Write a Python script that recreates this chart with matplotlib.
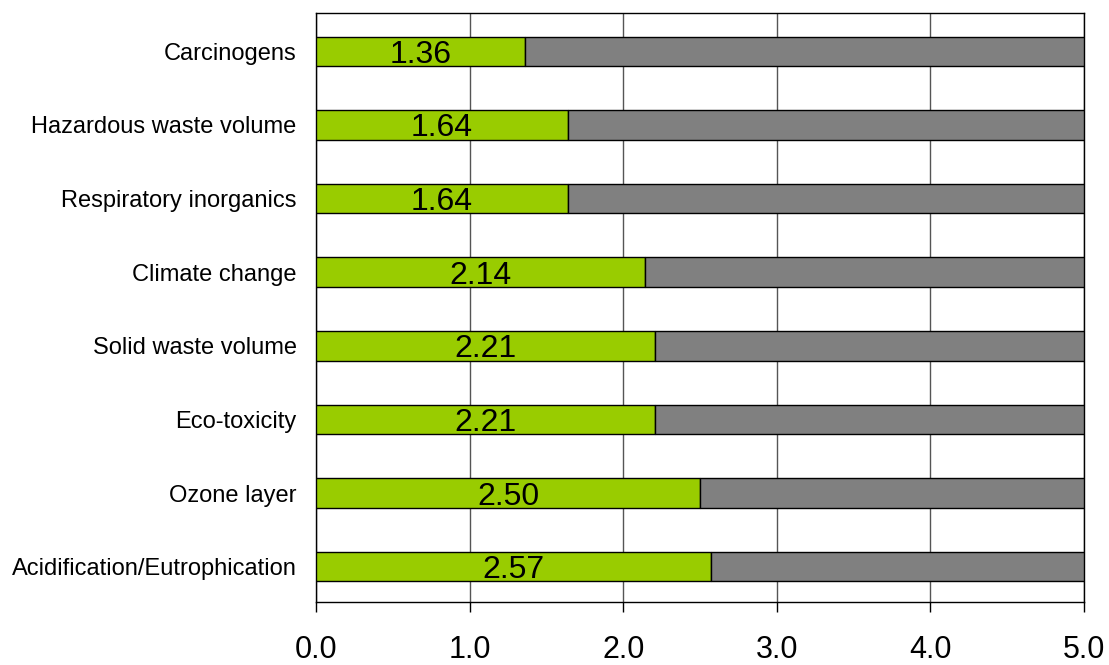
import matplotlib
matplotlib.use("Agg")
import matplotlib.pyplot as plt
import numpy as np

categories = ["Carcinogens", "Hazardous waste volume", "Respiratory inorganics",
              "Climate change", "Solid waste volume", "Eco-toxicity",
              "Ozone layer", "Acidification/Eutrophication"]
values = [1.36, 1.64, 1.64, 2.14, 2.21, 2.21, 2.50, 2.57]
max_score = 5.0
x_ticks = [0.0, 1.0, 2.0, 3.0, 4.0, 5.0]

plt.rcParams['font.family'] = ['Liberation Sans', 'DejaVu Sans']

fig = plt.figure(figsize=(11.09, 6.65), dpi=100)
ax = fig.add_axes([316/1109, 1-602/665, (1084-316)/1109, (602-13)/665])

y = np.arange(len(categories)) + 0.02
remainder = [max_score - v for v in values]
ax.barh(y, values, height=0.4, color='#99CC00', edgecolor='black', linewidth=1, zorder=3)
ax.barh(y, remainder, left=values, height=0.4, color='#808080', edgecolor='black', linewidth=1, zorder=3)

for yi, v in zip(y, values):
    ax.text(v/2, yi, f"{v:.2f}", ha='center', va='center_baseline', fontsize=23, color='black', zorder=4)

ax.set_xlim(0, 5)
ax.set_ylim(len(categories)-0.5, -0.5)
ax.set_yticks(y)
ax.set_yticklabels(categories, fontsize=17)
ax.tick_params(axis='y', length=0, pad=14)
ax.set_xticks(x_ticks)
ax.set_xticklabels([f"{t:.1f}" for t in x_ticks], fontsize=22)
ax.tick_params(axis='x', length=7, width=1, direction='out', pad=17, color='black')
ax.grid(axis='x', color='#555555', linewidth=1, zorder=0)
for s in ax.spines.values():
    s.set_color('black')
    s.set_linewidth(1)

fig.savefig("out.png", dpi=100)
